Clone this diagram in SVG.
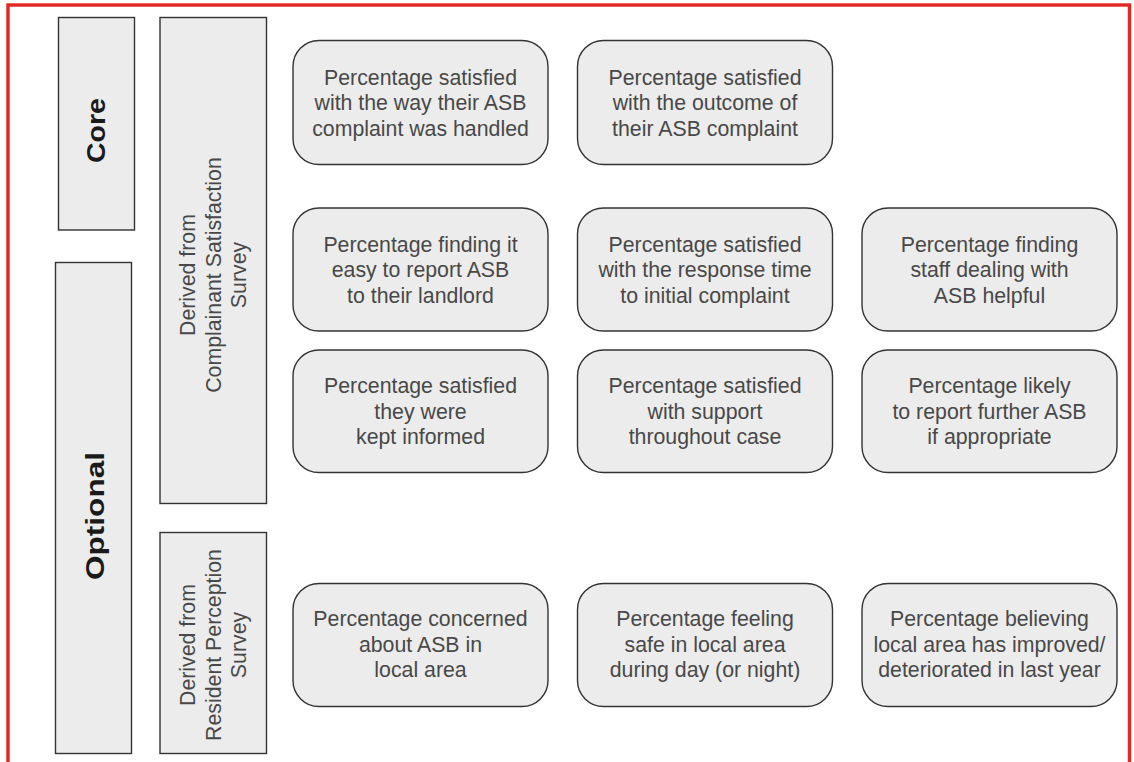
<svg xmlns="http://www.w3.org/2000/svg" width="1134" height="762" viewBox="0 0 1134 762">
<style>
.frame{fill:none;stroke:#e3261f;stroke-width:3.4}
.band{fill:#ececec;stroke:#333;stroke-width:1.4}
.node{fill:#ececec;stroke:#333;stroke-width:1.4}
.t{font-family:"Liberation Sans",Arial,sans-serif;font-size:21.3px;fill:#484848;text-anchor:middle}
.h{font-family:"Liberation Sans",Arial,sans-serif;font-size:25px;font-weight:bold;fill:#1a1a1a;text-anchor:middle}
</style>
<rect width="1134" height="762" fill="#fff"/>
<rect class="frame" x="8" y="5" width="1121.5" height="800"/>
<g id="core">
<rect class="band" x="58.5" y="17.5" width="76" height="212.5"/>
<text class="h" transform="translate(105,130.5) rotate(-90)" textLength="65" lengthAdjust="spacingAndGlyphs">Core</text>
</g>
<g id="optional">
<rect class="band" x="55.5" y="262.5" width="76" height="491"/>
<text class="h" transform="translate(104,516) rotate(-90)" textLength="128" lengthAdjust="spacingAndGlyphs">Optional</text>
</g>
<g id="complainant-survey">
<rect class="band" x="160" y="17.5" width="106.5" height="486"/>
<text class="t" transform="translate(0,275) rotate(-90)"><tspan x="0" y="195">Derived from</tspan><tspan x="0" y="220.5">Complainant Satisfaction</tspan><tspan x="0" y="246">Survey</tspan></text>
</g>
<g id="resident-survey">
<rect class="band" x="160" y="532.5" width="106.5" height="221"/>
<text class="t" transform="translate(0,645) rotate(-90)"><tspan x="0" y="195">Derived from</tspan><tspan x="0" y="220.5">Resident Perception</tspan><tspan x="0" y="246">Survey</tspan></text>
</g>
<g id="connectors"></g>
<g id="n1">
<rect class="node" x="293" y="40.5" width="255" height="124" rx="26"/>
<text class="t"><tspan x="420.5" y="84.5">Percentage satisfied</tspan><tspan x="420.5" y="110">with the way their ASB</tspan><tspan x="420.5" y="135.5">complaint was handled</tspan></text>
</g>
<g id="n2">
<rect class="node" x="577.5" y="40.5" width="255" height="124" rx="26"/>
<text class="t"><tspan x="705" y="84.5">Percentage satisfied</tspan><tspan x="705" y="110">with the outcome of</tspan><tspan x="705" y="135.5">their ASB complaint</tspan></text>
</g>
<g id="n3">
<rect class="node" x="293" y="208" width="255" height="123" rx="26"/>
<text class="t"><tspan x="420.5" y="251.5">Percentage finding it</tspan><tspan x="420.5" y="277">easy to report ASB</tspan><tspan x="420.5" y="302.5">to their landlord</tspan></text>
</g>
<g id="n4">
<rect class="node" x="577.5" y="208" width="255" height="123" rx="26"/>
<text class="t"><tspan x="705" y="251.5">Percentage satisfied</tspan><tspan x="705" y="277">with the response time</tspan><tspan x="705" y="302.5">to initial complaint</tspan></text>
</g>
<g id="n5">
<rect class="node" x="862" y="208" width="255" height="123" rx="26"/>
<text class="t"><tspan x="989.5" y="251.5">Percentage finding</tspan><tspan x="989.5" y="277">staff dealing with</tspan><tspan x="989.5" y="302.5">ASB helpful</tspan></text>
</g>
<g id="n6">
<rect class="node" x="293" y="350" width="255" height="122.5" rx="26"/>
<text class="t"><tspan x="420.5" y="393">Percentage satisfied</tspan><tspan x="420.5" y="418.5">they were</tspan><tspan x="420.5" y="444">kept informed</tspan></text>
</g>
<g id="n7">
<rect class="node" x="577.5" y="350" width="255" height="122.5" rx="26"/>
<text class="t"><tspan x="705" y="393">Percentage satisfied</tspan><tspan x="705" y="418.5">with support</tspan><tspan x="705" y="444">throughout case</tspan></text>
</g>
<g id="n8">
<rect class="node" x="862" y="350" width="255" height="122.5" rx="26"/>
<text class="t"><tspan x="989.5" y="393">Percentage likely</tspan><tspan x="989.5" y="418.5">to report further ASB</tspan><tspan x="989.5" y="444">if appropriate</tspan></text>
</g>
<g id="n9">
<rect class="node" x="293" y="583.5" width="255" height="123" rx="26"/>
<text class="t"><tspan x="420.5" y="626">Percentage concerned</tspan><tspan x="420.5" y="651.5">about ASB in</tspan><tspan x="420.5" y="677">local area</tspan></text>
</g>
<g id="n10">
<rect class="node" x="577.5" y="583.5" width="255" height="123" rx="26"/>
<text class="t"><tspan x="705" y="626">Percentage feeling</tspan><tspan x="705" y="651.5">safe in local area</tspan><tspan x="705" y="677">during day (or night)</tspan></text>
</g>
<g id="n11">
<rect class="node" x="862" y="583.5" width="255" height="123" rx="26"/>
<text class="t"><tspan x="989.5" y="626">Percentage believing</tspan><tspan x="989.5" y="651.5">local area has improved/</tspan><tspan x="989.5" y="677">deteriorated in last year</tspan></text>
</g>
</svg>
